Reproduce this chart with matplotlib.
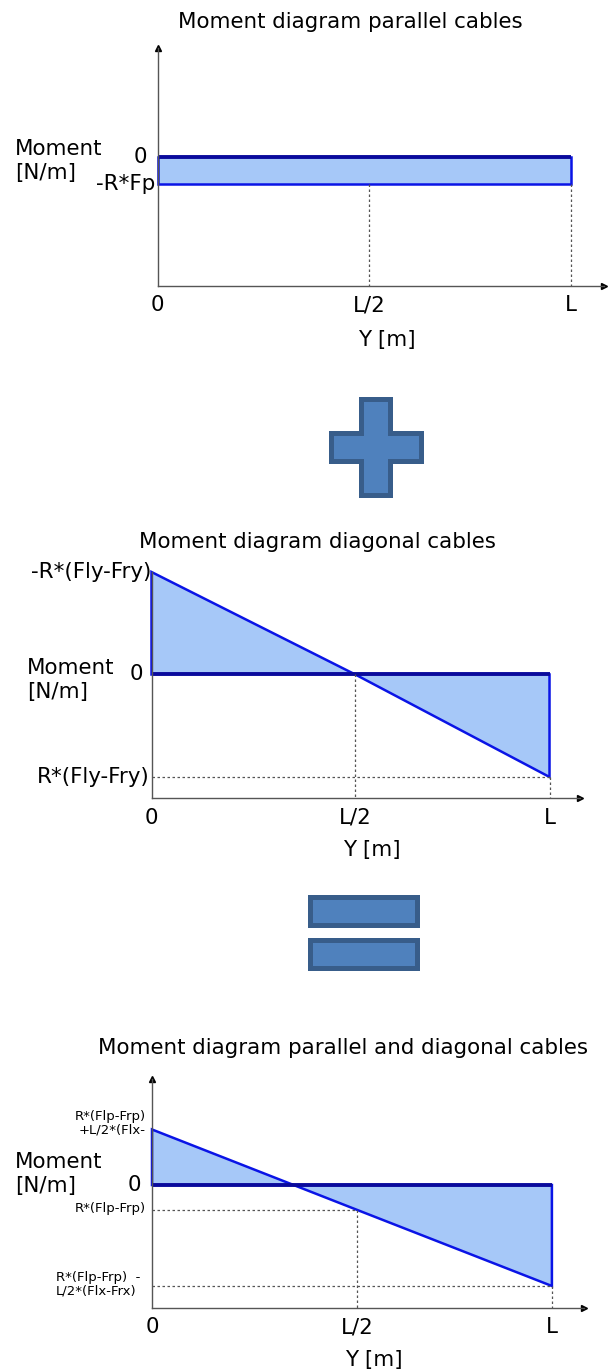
import numpy as np
import matplotlib
matplotlib.use("Agg")
import matplotlib.pyplot as plt
from matplotlib.patches import Polygon, Rectangle

W, H = 610, 1372

# positions along the beam (fraction of L)
pos = [0.0, 0.512, 1.0]
pos_labels = ["0", "L/2", "L"]

# moment values (arbitrary units) for each diagram
par_vals = [-1.0, -1.0, -1.0]
diag_vals = [1.0, 0.0, -1.0]
comb_vals = [0.55, -0.245, -1.0]

par_ticks = ["0", "-R*Fp"]
diag_ticks = ["-R*(Fly-Fry)", "0", "R*(Fly-Fry)"]
comb_ticks = ["R*(Flp-Frp)\n+L/2*(Flx-", "0", "R*(Flp-Frp)",
              "R*(Flp-Frp)  -\nL/2*(Flx-Frx)"]

FILL = "#a6c8f8"
EDGE = "#0a14e6"
ZERO = "#0a0a9c"
AXC = "#555555"
FS = 15.4

fig = plt.figure(figsize=(W / 100, H / 100), dpi=100)
fig.patch.set_facecolor("white")


def add_ax(l, t, r, b):
    return fig.add_axes([l / W, 1 - b / H, (r - l) / W, (b - t) / H])


def to_ax(box, x, y):
    l, t, r, b = box
    return (x - l) / (r - l), (b - y) / (b - t)


def setup(ax, box, xmax, ylim, yarrow=True):
    ax.set_xlim(0, xmax)
    ax.set_ylim(*ylim)
    for s in ["top", "right"]:
        ax.spines[s].set_visible(False)
    for s in ["left", "bottom"]:
        ax.spines[s].set_color(AXC)
        ax.spines[s].set_linewidth(1.0)
    ax.set_xticks(pos)
    ax.set_xticklabels(pos_labels, fontsize=FS)
    ax.set_yticks([])
    ax.tick_params(axis="x", length=0, pad=7)
    ax.plot(1, 0, ">", color="black", ms=5, transform=ax.transAxes, clip_on=False)
    if yarrow:
        ax.plot(0, 1, "^", color="black", ms=5, transform=ax.transAxes, clip_on=False)
    ax.set_facecolor("none")


def draw_diagram(ax, vals):
    ax.fill_between(pos, vals, 0, color=FILL, lw=0)
    ax.plot([0] + pos + [1], [0] + vals + [0], color=EDGE, lw=1.8,
            solid_joinstyle="miter", clip_on=False)
    ax.plot([0, 1], [0, 0], color=ZERO, lw=2.8, solid_capstyle="butt")


def dotted(ax, xs, ys):
    ax.plot(xs, ys, color=AXC, lw=0.9, ls=(0, (2, 2)), clip_on=False)


def ytext(ax, box, xpx, y, s, size=FS, ha="right"):
    xa = (xpx - box[0]) / (box[2] - box[0])
    ax.text(xa, y, s, transform=ax.get_yaxis_transform(), ha=ha, va="center",
            fontsize=size, multialignment=ha, linespacing=1.05)


def labels(ax, box, ylab_xy, xlab_xy, title, title_xy):
    ax.set_ylabel("Moment\n[N/m]", rotation=0, fontsize=FS, ha="left",
                  va="center", multialignment="left")
    ax.yaxis.set_label_coords(*to_ax(box, *ylab_xy))
    ax.set_xlabel("Y [m]", fontsize=FS, va="center")
    ax.xaxis.set_label_coords(*to_ax(box, *xlab_xy))
    fig.text(title_xy[0] / W, 1 - title_xy[1] / H, title, fontsize=FS,
             ha="center", va="center")


# ---- parallel cables ----
box1 = (157.6, 48, 604, 285.5)
ax1 = add_ax(*box1)
setup(ax1, box1, 1.08, (-4.76, 4.04))
draw_diagram(ax1, par_vals)
dotted(ax1, [pos[1], pos[1]], [par_vals[1], -4.76])
dotted(ax1, [1, 1], [par_vals[2], -4.76])
ytext(ax1, box1, 147, 0, par_ticks[0])
ytext(ax1, box1, 155, par_vals[0], par_ticks[1])
labels(ax1, box1, (15, 161), (387, 340), "Moment diagram parallel cables", (350, 22))

# ---- diagonal cables ----
box2 = (151.5, 572, 580, 798)
ax2 = add_ax(*box2)
setup(ax2, box2, 1.0766, (-1.205, 1.0), yarrow=False)
draw_diagram(ax2, diag_vals)
dotted(ax2, [pos[1], pos[1]], [0, -1.205])
dotted(ax2, [1, 1], [diag_vals[2], -1.205])
dotted(ax2, [0, 1], [diag_vals[2], diag_vals[2]])
ytext(ax2, box2, 151, diag_vals[0], diag_ticks[0])
ytext(ax2, box2, 143, 0, diag_ticks[1])
ytext(ax2, box2, 150, diag_vals[2], diag_ticks[2])
labels(ax2, box2, (27, 680), (372, 850), "Moment diagram diagonal cables", (317, 542))

# ---- combined ----
box3 = (152, 1079, 583.5, 1307.5)
ax3 = add_ax(*box3)
setup(ax3, box3, 1.079, (-1.213, 1.05))
draw_diagram(ax3, comb_vals)
dotted(ax3, [0, pos[1]], [comb_vals[1], comb_vals[1]])
dotted(ax3, [pos[1], pos[1]], [comb_vals[1], -1.213])
dotted(ax3, [0, 1], [comb_vals[2], comb_vals[2]])
dotted(ax3, [1, 1], [comb_vals[2], -1.213])
ytext(ax3, box3, 146, comb_vals[0] + 0.06, comb_ticks[0], size=9.5)
ytext(ax3, box3, 141, 0, comb_ticks[1])
ytext(ax3, box3, 146, comb_vals[1] + 0.01, comb_ticks[2], size=9.5)
ytext(ax3, box3, 56, comb_vals[2] + 0.02, comb_ticks[3], size=9.5, ha="left")
labels(ax3, box3, (15, 1174), (374, 1360),
       "Moment diagram parallel and diagonal cables", (343, 1048))

# ---- plus / equals symbols ----
ov = fig.add_axes([0, 0, 1, 1])
ov.set_xlim(0, W)
ov.set_ylim(H, 0)
ov.axis("off")
ov.set_facecolor("none")
SYM_FILL = "#4f81bd"
SYM_EDGE = "#385d8a"
e = 2.5
plus = [(358 + e, 396 + e), (392 - e, 396 + e), (392 - e, 430 + e), (423 - e, 430 + e),
        (423 - e, 463 - e), (392 - e, 463 - e), (392 - e, 497 - e), (358 + e, 497 - e),
        (358 + e, 463 - e), (328 + e, 463 - e), (328 + e, 430 + e), (358 + e, 430 + e)]
ov.add_patch(Polygon(plus, closed=True, fc=SYM_FILL, ec=SYM_EDGE, lw=3.6,
                     joinstyle="miter"))
for y0, y1 in [(894, 927), (937, 970)]:
    ov.add_patch(Rectangle((307 + e, y0 + e), 112 - 2 * e, y1 - y0 - 2 * e,
                           fc=SYM_FILL, ec=SYM_EDGE, lw=3.6, joinstyle="miter"))

fig.savefig("out.png", dpi=100, facecolor="white")
